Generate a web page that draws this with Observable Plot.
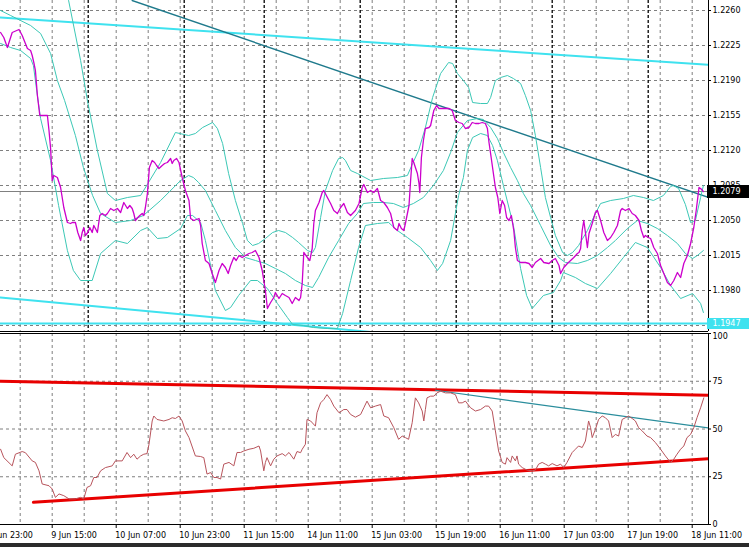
<!DOCTYPE html>
<html><head><meta charset="utf-8">
<script src="https://cdn.jsdelivr.net/npm/d3@7"></script>
<script src="https://cdn.jsdelivr.net/npm/@observablehq/plot@0.6"></script>
<style>
html,body{margin:0;padding:0;background:#fff;}
#wrap{position:relative;width:749px;height:547px;overflow:hidden;background:#fff;}
#topPanel{position:absolute;left:0;top:0;}
#botPanel{position:absolute;left:0;top:332px;}
#status{position:absolute;left:0;top:543px;width:749px;height:4px;background:#2b2b2b;}
svg{display:block;}
</style></head><body>
<div id="wrap"><div id="topPanel"></div><div id="botPanel"></div><div id="status"></div></div>
<script>
// ---- time axis (H1 bar index; 0 = 8 Jun 23:00) ----
const labelBars = [0,16,32,48,64,80,96,112,128,144,160,176];
const labelTexts = ["8 Jun 23:00","9 Jun 15:00","10 Jun 07:00","10 Jun 23:00","11 Jun 15:00","14 Jun 11:00","15 Jun 03:00","15 Jun 19:00","16 Jun 11:00","17 Jun 03:00","17 Jun 19:00","18 Jun 11:00"];
const gridBars = [8,16,24,32,40,48,56,64,72,80,88,96,104,112,120,128,136,144,152,160,168,176];
const daySeparators = [25,49,69,93,117,141,165];

// ---- price axis ----
const priceGrid = [1.2260,1.2225,1.2190,1.2155,1.2120,1.2085,1.2050,1.2015,1.1980,1.1945];
const priceLabels = [1.2260,1.2225,1.2190,1.2155,1.2120,1.2085,1.2050,1.2015,1.1980];
const bidPrice = 1.2079;
const supportPrice = 1.1947;

// ---- close price [bar, price] ----
const price = [[3.1,1.2238],[3.9,1.2233],[4.8,1.2223],[6.0,1.2238],[7.7,1.2241],[8.5,1.2235],[9.3,1.2227],[9.8,1.2222],[10.6,1.2220],[11.0,1.2215],[11.4,1.2208],[11.8,1.2200],[12.3,1.2175],[12.9,1.2155],[14.8,1.2155],[15.2,1.2140],[15.6,1.2122],[16.0,1.2090],[16.4,1.2095],[17.3,1.2093],[18.1,1.2083],[18.9,1.2063],[19.8,1.2048],[20.6,1.2047],[21.0,1.2048],[21.8,1.2048],[22.4,1.2038],[23.1,1.2030],[23.5,1.2038],[23.9,1.2043],[24.3,1.2035],[24.9,1.2038],[25.4,1.2043],[26.0,1.2038],[26.4,1.2045],[26.8,1.2042],[27.3,1.2038],[27.9,1.2055],[28.5,1.2057],[29.3,1.2055],[29.8,1.2057],[30.6,1.2062],[31.4,1.2060],[32.3,1.2062],[33.1,1.2058],[33.9,1.2068],[34.8,1.2062],[35.4,1.2065],[36.0,1.2062],[36.4,1.2057],[36.8,1.2050],[37.4,1.2053],[37.9,1.2055],[38.5,1.2057],[38.9,1.2055],[39.3,1.2063],[39.8,1.2077],[40.3,1.2103],[41.0,1.2110],[41.6,1.2108],[42.1,1.2105],[42.7,1.2102],[43.5,1.2105],[44.1,1.2107],[44.8,1.2108],[45.6,1.2112],[46.0,1.2107],[46.4,1.2110],[47.1,1.2112],[47.7,1.2108],[48.5,1.2093],[49.3,1.2080],[50.2,1.2070],[50.6,1.2052],[51.4,1.2050],[52.7,1.2052],[53.1,1.2045],[53.5,1.2027],[54.3,1.2010],[55.2,1.2007],[56.0,1.1997],[56.8,1.1988],[57.7,1.2000],[58.5,1.2007],[59.3,1.2003],[60.0,1.1997],[60.6,1.2005],[61.4,1.2013],[62.0,1.2010],[62.7,1.2015],[63.5,1.2013],[64.3,1.2015],[65.2,1.2017],[66.0,1.2018],[66.8,1.2020],[67.7,1.2013],[68.5,1.2000],[69.3,1.1980],[69.8,1.1962],[70.6,1.1968],[71.4,1.1973],[71.8,1.1978],[72.7,1.1972],[73.5,1.1977],[74.3,1.1975],[75.2,1.1973],[76.0,1.1967],[76.8,1.1973],[77.7,1.1970],[78.1,1.1973],[78.5,1.1987],[78.9,1.2018],[79.8,1.2013],[80.4,1.2010],[81.0,1.2022],[81.4,1.2047],[81.8,1.2060],[82.7,1.2068],[83.5,1.2078],[83.9,1.2080],[84.8,1.2073],[85.6,1.2067],[86.4,1.2060],[87.3,1.2057],[88.1,1.2063],[88.9,1.2067],[89.8,1.2058],[90.6,1.2055],[91.8,1.2060],[92.7,1.2067],[93.5,1.2083],[93.9,1.2086],[94.8,1.2078],[95.6,1.2080],[96.4,1.2078],[97.3,1.2082],[98.1,1.2070],[98.9,1.2068],[99.8,1.2063],[100.6,1.2057],[101.4,1.2043],[102.3,1.2040],[102.7,1.2047],[103.3,1.2042],[103.9,1.2040],[104.3,1.2047],[104.8,1.2057],[105.2,1.2065],[105.6,1.2090],[106.0,1.2112],[106.4,1.2108],[106.8,1.2103],[107.3,1.2097],[107.7,1.2087],[107.9,1.2078],[108.3,1.2113],[108.8,1.2130],[109.3,1.2142],[110.2,1.2143],[110.6,1.2145],[111.4,1.2160],[112.1,1.2165],[112.7,1.2162],[113.9,1.2162],[115.2,1.2162],[116.0,1.2160],[116.8,1.2150],[117.7,1.2148],[118.5,1.2147],[119.3,1.2142],[120.2,1.2143],[121.0,1.2148],[121.8,1.2147],[122.7,1.2147],[123.5,1.2148],[124.3,1.2147],[124.8,1.2142],[125.2,1.2128],[125.6,1.2117],[126.3,1.2097],[126.8,1.2083],[127.4,1.2073],[127.9,1.2057],[128.5,1.2070],[129.1,1.2065],[129.6,1.2053],[130.2,1.2050],[130.8,1.2055],[131.4,1.2040],[131.8,1.2023],[132.3,1.2010],[133.1,1.2008],[134.3,1.2008],[135.2,1.2007],[136.0,1.2003],[136.8,1.2008],[138.1,1.2012],[138.9,1.2008],[140.2,1.2007],[141.0,1.2010],[141.8,1.2012],[142.7,1.2005],[143.1,1.1997],[143.5,1.2000],[143.9,1.2003],[144.8,1.2007],[145.6,1.2010],[146.4,1.2013],[147.3,1.2017],[147.7,1.2018],[148.1,1.2022],[148.5,1.2040],[148.9,1.2050],[149.3,1.2038],[149.8,1.2023],[150.2,1.2037],[151.0,1.2047],[151.8,1.2058],[152.3,1.2060],[153.1,1.2050],[153.9,1.2038],[154.8,1.2030],[155.6,1.2033],[156.4,1.2038],[157.3,1.2045],[158.1,1.2060],[158.5,1.2062],[159.3,1.2060],[160.2,1.2062],[161.0,1.2057],[161.8,1.2055],[162.7,1.2050],[163.3,1.2040],[163.9,1.2033],[164.3,1.2035],[165.0,1.2033],[165.6,1.2032],[166.4,1.2023],[167.3,1.2017],[168.1,1.2005],[168.9,1.1997],[169.8,1.1988],[170.6,1.1985],[171.4,1.1990],[172.3,1.1998],[173.1,1.1993],[173.9,1.2007],[174.8,1.2015],[175.6,1.2027],[176.4,1.2043],[177.0,1.2060],[177.7,1.2083],[178.1,1.2082],[178.8,1.2079]];

// ---- Bollinger bands [bar, price] ----
const bbUpper = [[20.1,1.2270],[23.1,1.2210],[24.8,1.2170],[27.3,1.2120],[29.8,1.2077],[31.8,1.2070],[34.8,1.2073],[38.1,1.2075],[43.1,1.2108],[46.8,1.2138],[50.1,1.2135],[51.8,1.2137],[53.6,1.2143],[56.1,1.2148],[57.3,1.2142],[58.6,1.2127],[60.1,1.2097],[61.8,1.2070],[63.6,1.2047],[64.8,1.2030],[66.1,1.2025],[67.6,1.2027],[69.3,1.2032],[71.1,1.2038],[72.6,1.2040],[74.3,1.2038],[76.1,1.2033],[77.6,1.2028],[79.8,1.2020],[81.1,1.2018],[81.8,1.2023],[83.1,1.2053],[84.3,1.2080],[86.1,1.2100],[87.6,1.2112],[88.6,1.2113],[89.3,1.2110],[90.6,1.2100],[92.3,1.2097],[95.6,1.2090],[98.8,1.2092],[102.3,1.2093],[104.8,1.2095],[106.1,1.2107],[107.6,1.2120],[109.3,1.2143],[111.1,1.2173],[113.1,1.2197],[115.1,1.2208],[116.1,1.2207],[117.3,1.2197],[118.8,1.2190],[120.1,1.2183],[121.1,1.2168],[123.1,1.2167],[124.8,1.2167],[125.6,1.2173],[126.8,1.2190],[128.1,1.2193],[129.8,1.2195],[131.3,1.2192],[133.1,1.2187],[134.3,1.2175],[135.6,1.2160],[136.8,1.2135],[138.1,1.2103],[139.3,1.2073],[140.6,1.2053],[141.8,1.2035],[143.6,1.2018],[144.8,1.2015],[146.1,1.2018],[147.6,1.2025],[149.8,1.2040],[151.8,1.2057],[153.1,1.2067],[155.6,1.2070],[158.8,1.2072],[161.3,1.2075],[163.8,1.2073],[166.3,1.2070],[168.8,1.2075],[170.6,1.2084],[171.3,1.2085],[172.6,1.2082],[174.3,1.2066],[175.6,1.2048],[176.8,1.2050],[178.1,1.2073],[178.8,1.2085]];
const bbMiddle = [[3.1,1.2260],[5.6,1.2255],[8.1,1.2250],[10.6,1.2245],[13.1,1.2237],[15.6,1.2217],[17.3,1.2190],[19.1,1.2170],[21.8,1.2135],[23.8,1.2103],[26.1,1.2075],[28.1,1.2057],[31.8,1.2048],[35.6,1.2050],[38.8,1.2055],[43.1,1.2070],[48.1,1.2090],[50.1,1.2095],[51.3,1.2093],[52.6,1.2088],[54.3,1.2080],[56.8,1.2060],[59.3,1.2040],[61.8,1.2023],[64.3,1.2013],[66.8,1.2010],[69.3,1.2007],[71.8,1.2002],[74.3,1.1997],[76.8,1.1990],[79.3,1.1985],[81.1,1.1983],[82.6,1.1993],[85.1,1.2013],[87.6,1.2030],[90.1,1.2047],[92.3,1.2057],[93.8,1.2067],[96.3,1.2068],[98.8,1.2068],[101.3,1.2067],[103.8,1.2063],[106.3,1.2067],[108.8,1.2073],[111.3,1.2085],[113.8,1.2100],[115.6,1.2118],[117.3,1.2138],[119.8,1.2150],[122.3,1.2152],[123.8,1.2151],[125.6,1.2143],[127.3,1.2132],[128.8,1.2118],[130.6,1.2103],[132.3,1.2090],[133.8,1.2077],[135.6,1.2065],[138.1,1.2045],[140.6,1.2025],[142.6,1.2013],[144.3,1.2008],[147.3,1.2007],[149.8,1.2010],[152.3,1.2015],[154.8,1.2023],[156.8,1.2030],[159.8,1.2042],[162.3,1.2050],[164.8,1.2047],[167.3,1.2042],[169.8,1.2035],[172.3,1.2027],[174.3,1.2017],[176.1,1.2012],[177.3,1.2015],[178.8,1.2020]];
const bbLower = [[3.1,1.2227],[5.6,1.2223],[8.1,1.2220],[10.6,1.2212],[11.3,1.2205],[12.3,1.2175],[13.1,1.2152],[15.6,1.2110],[17.6,1.2065],[19.8,1.2020],[21.3,1.2000],[23.1,1.1990],[26.0,1.1990],[28.1,1.2017],[31.8,1.2030],[34.8,1.2027],[38.1,1.2040],[39.8,1.2043],[42.3,1.2032],[44.8,1.2033],[48.1,1.2042],[49.8,1.2055],[51.1,1.2055],[53.1,1.2048],[54.3,1.2030],[55.6,1.2005],[56.8,1.1980],[59.3,1.1960],[60.6,1.1963],[62.6,1.1975],[65.6,1.1990],[67.3,1.1990],[69.8,1.1982],[72.3,1.1967],[74.8,1.1953],[76.1,1.1946],[78.8,1.1945],[81.3,1.1943],[84.8,1.1942],[87.3,1.1942],[88.6,1.1957],[90.6,1.1990],[92.6,1.2023],[94.3,1.2045],[97.3,1.2047],[100.1,1.2048],[102.3,1.2040],[104.8,1.2033],[108.1,1.2023],[110.6,1.2010],[112.3,1.2000],[113.6,1.2007],[115.6,1.2030],[117.6,1.2075],[118.8,1.2093],[119.8,1.2120],[121.1,1.2133],[123.1,1.2137],[124.8,1.2135],[126.1,1.2125],[127.3,1.2110],[128.8,1.2085],[131.3,1.2045],[133.1,1.2002],[134.6,1.1975],[136.0,1.1962],[138.8,1.1975],[141.3,1.1978],[143.1,1.1990],[143.8,1.1998],[146.8,1.1993],[149.3,1.1987],[152.3,1.1982],[155.6,1.1997],[158.8,1.2013],[161.8,1.2028],[164.8,1.2023],[168.1,1.2003],[170.6,1.1985],[173.1,1.1972],[176.1,1.1977],[178.1,1.1967],[178.8,1.1958]];

// ---- trend lines (price panel) ----
const channelTop = [[3.075,1.2253],[180.075,1.22057]];
const channelBottom = [[3.075,1.1973],[180.075,1.1907]];
const resistance = [[36.0,1.2270],[180.075,1.2073]];

// ---- oscillator panel ----
const oscTicks = [75,50,25,0];
const oscTopTick = [100];
const oscGrid = [25,50,75];
const osc = [[3.1,39.4],[3.9,35.0],[6.0,30.7],[6.8,36.8],[8.5,38.2],[9.3,37.6],[11.0,33.3],[11.8,32.5],[12.7,28.1],[13.5,21.2],[15.2,20.3],[16.0,18.6],[16.8,14.2],[17.7,16.0],[18.9,15.1],[20.2,13.4],[21.8,13.4],[23.1,14.2],[23.9,13.4],[24.7,19.4],[25.6,20.3],[26.4,24.6],[27.2,24.6],[28.1,28.1],[29.3,29.8],[31.0,30.7],[31.8,33.3],[33.5,33.3],[34.7,37.7],[35.6,35.0],[36.4,36.8],[37.2,34.2],[38.1,35.9],[38.9,36.8],[39.7,37.1],[40.2,42.0],[41.0,54.2],[41.4,56.8],[42.2,55.0],[43.9,54.2],[45.2,55.0],[46.0,55.9],[46.8,55.5],[47.7,56.8],[48.5,54.2],[49.3,49.0],[50.2,45.5],[51.8,35.9],[53.1,35.6],[53.9,35.0],[54.7,26.4],[55.6,27.2],[56.4,24.6],[57.2,24.6],[58.1,23.8],[58.9,31.6],[60.2,32.5],[61.4,30.7],[62.2,37.7],[63.1,37.7],[63.9,38.5],[65.2,39.4],[66.4,39.9],[67.7,41.1],[68.1,38.5],[68.9,28.1],[69.3,32.5],[69.7,35.0],[70.6,30.7],[71.4,34.2],[72.2,35.9],[73.5,37.1],[74.3,35.9],[75.2,37.7],[76.4,34.2],[77.2,38.2],[78.1,37.6],[78.5,39.4],[79.3,42.0],[79.7,55.0],[80.6,54.2],[81.8,51.5],[82.2,58.5],[83.1,63.7],[83.9,65.4],[84.7,68.0],[85.6,65.4],[86.4,62.0],[87.7,58.5],[88.9,60.2],[89.7,60.2],[90.6,57.6],[91.8,56.2],[93.1,57.6],[93.9,61.1],[94.7,64.6],[95.6,61.1],[96.8,62.0],[98.1,62.8],[98.9,56.8],[100.1,55.9],[101.4,50.7],[102.6,44.6],[103.5,46.3],[104.3,45.5],[105.1,44.6],[106.0,53.3],[106.8,66.3],[107.6,63.7],[108.5,59.4],[108.9,54.2],[109.3,60.2],[109.7,66.3],[110.6,67.2],[111.4,67.2],[112.2,68.9],[113.1,69.8],[114.3,68.9],[115.6,68.9],[116.8,68.0],[117.6,63.7],[118.5,63.7],[119.3,64.6],[120.6,61.1],[121.8,59.4],[123.1,60.2],[124.3,62.0],[125.1,62.0],[126.0,59.4],[126.8,49.0],[127.6,38.5],[128.5,32.5],[129.3,31.6],[129.7,35.0],[130.6,32.5],[131.0,35.9],[131.8,33.3],[132.2,35.9],[132.6,31.6],[133.5,29.8],[134.7,28.5],[136.0,28.1],[136.8,28.5],[137.6,31.6],[138.5,32.5],[139.3,31.6],[140.1,30.7],[141.0,31.9],[142.2,30.7],[143.1,31.6],[143.9,29.8],[144.7,32.5],[146.0,37.7],[146.8,39.4],[147.6,41.1],[148.5,40.3],[149.3,43.7],[150.1,54.2],[150.6,50.7],[151.0,45.5],[151.8,49.8],[152.6,55.0],[153.5,56.8],[154.3,55.9],[155.1,54.2],[156.0,45.5],[156.8,47.2],[157.6,46.3],[158.5,55.0],[159.3,55.9],[160.1,56.8],[161.0,55.5],[161.8,54.2],[162.6,50.7],[163.5,49.0],[164.7,46.3],[165.6,45.5],[166.8,42.9],[168.1,39.4],[169.3,35.9],[170.6,32.5],[171.4,34.2],[172.2,36.8],[173.1,39.4],[173.9,41.1],[174.7,45.5],[175.6,47.2],[176.4,50.7],[177.2,55.9],[178.1,61.1],[178.9,66.3]];
const oscUpperLine = [[3.075,75.0],[180.075,67.7]];
const oscLowerLine = [[11.3,11.6],[180.075,34.4]];
const oscTrend = [[111.8,70.3],[180.075,50.5]];

// ---- layout ----
const xDomain = [3.075, 180.075];
const yDomain = [1.1939, 1.2270];
const FONT = "DejaVu Sans";
const GRID = "#7f7f7f";
const BAND = "#3cc8b6";
const CYAN = "#3fe2ef";
const px = d => d[0], py = d => d[1];

const topPlot = Plot.plot({
  width: 749, height: 332,
  marginLeft: 0, marginRight: 41, marginTop: 0, marginBottom: 1,
  style: {background: "transparent", fontFamily: FONT, fontSize: "8px", overflow: "hidden"},
  x: {domain: xDomain, axis: null},
  y: {domain: yDomain, axis: null},
  marks: [
    Plot.ruleY(priceGrid, {stroke: GRID, strokeDasharray: "3,3"}),
    Plot.ruleX(gridBars, {stroke: GRID, strokeDasharray: "3,3"}),
    Plot.ruleX(daySeparators, {stroke: "#000", strokeDasharray: "3,2", strokeWidth: 1.3}),
    Plot.ruleY([bidPrice], {stroke: "#808080"}),
    Plot.line(channelTop, {x: px, y: py, stroke: CYAN, strokeWidth: 2, clip: true}),
    Plot.line(channelBottom, {x: px, y: py, stroke: CYAN, strokeWidth: 2, clip: true}),
    Plot.ruleY([supportPrice], {stroke: CYAN, strokeWidth: 2}),
    Plot.line(resistance, {x: px, y: py, stroke: "#1f7a8c", strokeWidth: 1.4, clip: true}),
    Plot.line(bbUpper, {x: px, y: py, stroke: BAND, strokeWidth: 1, clip: true}),
    Plot.line(bbMiddle, {x: px, y: py, stroke: BAND, strokeWidth: 1, clip: true}),
    Plot.line(bbLower, {x: px, y: py, stroke: BAND, strokeWidth: 1, clip: true}),
    Plot.line(price, {x: px, y: py, stroke: "#cc00cc", strokeWidth: 1.3, clip: true}),
    Plot.ruleX([xDomain[1]], {stroke: "#000"}),
    Plot.ruleY([yDomain[0]], {stroke: "#000"}),
    Plot.ruleY(priceGrid, {x1: xDomain[1], x2: xDomain[1], insetRight: -3, stroke: "#000"}),
    Plot.text(priceLabels, {x: xDomain[1], y: d => d, text: d => d.toFixed(4), textAnchor: "start", dx: 4, fill: "#000", fontSize: 8}),
    Plot.rect([bidPrice], {x1: xDomain[1], x2: xDomain[1], y1: d => d, y2: d => d, insetLeft: -1, insetRight: -41, insetTop: -6, insetBottom: -7, fill: "#000"}),
    Plot.text([bidPrice], {x: xDomain[1], y: d => d, text: d => d.toFixed(4), textAnchor: "start", dx: 4, fill: "#fff", fontSize: 8}),
    Plot.rect([supportPrice], {x1: xDomain[1], x2: xDomain[1], y1: d => d, y2: d => d, insetLeft: -1, insetRight: -41, insetTop: -5, insetBottom: -6, fill: CYAN}),
    Plot.text([supportPrice], {x: xDomain[1], y: d => d, text: d => d.toFixed(4), textAnchor: "start", dx: 4, fill: "#fff", fontSize: 8})
  ]
});
document.getElementById("topPanel").appendChild(topPlot);

const botPlot = Plot.plot({
  width: 749, height: 215,
  marginLeft: 0, marginRight: 41, marginTop: 1, marginBottom: 23,
  style: {background: "transparent", fontFamily: FONT, fontSize: "8px", overflow: "visible"},
  x: {domain: xDomain, axis: null},
  y: {domain: [0, 100], axis: null},
  marks: [
    Plot.ruleY(oscGrid, {stroke: GRID, strokeDasharray: "3,3"}),
    Plot.ruleX(gridBars, {stroke: GRID, strokeDasharray: "3,3"}),
    Plot.line(oscUpperLine, {x: px, y: py, stroke: "#e80000", strokeWidth: 3, clip: true}),
    Plot.line(oscLowerLine, {x: px, y: py, stroke: "#e80000", strokeWidth: 3, clip: true}),
    Plot.line(oscTrend, {x: px, y: py, stroke: "#2a8d9c", strokeWidth: 1.2, clip: true}),
    Plot.line(osc, {x: px, y: py, stroke: "#b8545c", strokeWidth: 1, clip: true}),
    Plot.ruleX([xDomain[1]], {stroke: "#000"}),
    Plot.ruleY([0, 100], {stroke: "#000"}),
    Plot.ruleY(oscTicks.concat(oscTopTick), {x1: xDomain[1], x2: xDomain[1], insetRight: -3, stroke: "#000"}),
    Plot.text(oscTicks, {x: xDomain[1], y: d => d, text: d => String(d), textAnchor: "start", dx: 4, fill: "#000", fontSize: 8}),
    Plot.text(oscTopTick, {x: xDomain[1], y: d => d, text: d => String(d), textAnchor: "start", dx: 4, dy: 3, fill: "#000", fontSize: 8}),
    Plot.ruleX(labelBars, {y1: 0, y2: 0, insetBottom: -4, stroke: "#000"}),
    Plot.text(labelBars, {x: d => d, y: 0, text: (d, i) => labelTexts[i], textAnchor: "start", dx: -1, dy: 11, fill: "#000", fontSize: 8})
  ]
});
document.getElementById("botPanel").appendChild(botPlot);
</script>
</body></html>
